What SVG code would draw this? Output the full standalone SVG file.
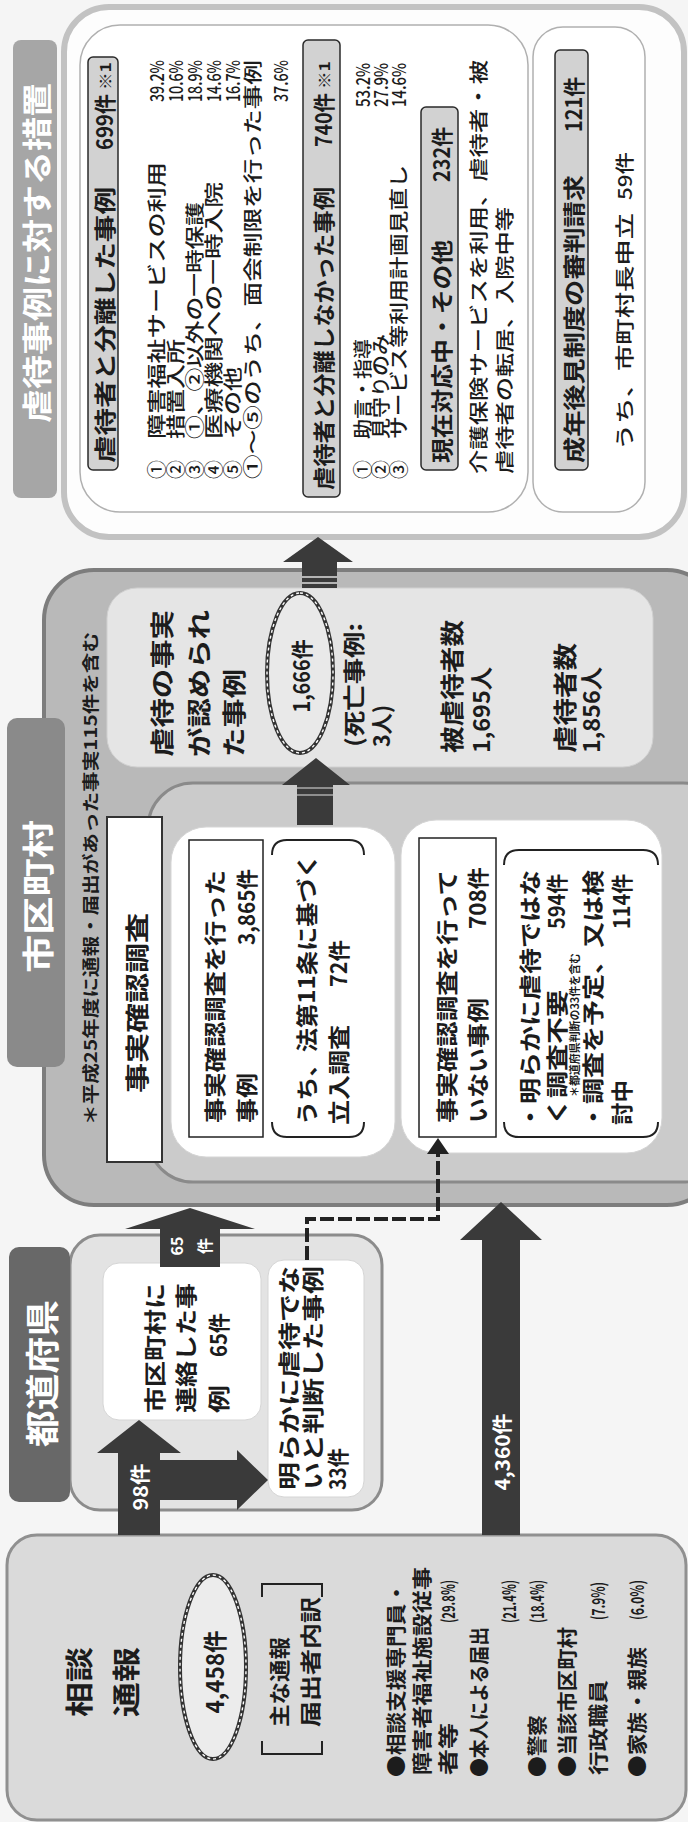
<svg xmlns="http://www.w3.org/2000/svg" width="688" height="1822" viewBox="0 0 688 1822">
<defs>
<style>
text{font-family:"Noto Sans CJK JP","Noto Sans",sans-serif;fill:#1c1c1c;dominant-baseline:central}
.b{font-weight:bold}
.w{fill:#fff}
.h{font-size:22px;font-weight:bold}
.i{font-size:19px;font-weight:500}
.m{font-size:22px;font-weight:bold}
.arr{fill:#3a3a3a}
.hdr{fill:#d2d2d2;stroke:#2a2a2a;stroke-width:1.5}
.wbox{fill:#fff;stroke:#d5d5d5;stroke-width:1}
.rbox{fill:#fff;stroke:#222;stroke-width:1.5}
.brk{fill:none;stroke:#222;stroke-width:2}
.ell{stroke:#333;stroke-width:4}
.elld{fill:none;stroke:#fff;stroke-width:1.4;stroke-dasharray:3 3}
.dash{fill:none;stroke:#222;stroke-width:4;stroke-dasharray:14 4}
</style>
</defs>
<rect width="688" height="1822" fill="#f5f5f5"/>
<g transform="translate(0,1822) rotate(-90)">

<!-- 相談・通報 -->
<g id="soudan">
<rect x="2" y="7" width="285" height="679" rx="30" fill="#dadada" stroke="#909090" stroke-width="3"/>
<text class="b" x="105" y="78" font-size="28" textLength="70" lengthAdjust="spacingAndGlyphs">相談</text>
<text class="b" x="105" y="125" font-size="28" textLength="70" lengthAdjust="spacingAndGlyphs">通報</text>
<ellipse class="ell" cx="155" cy="213" rx="92" ry="33" fill="#ececec"/>
<ellipse class="elld" cx="155" cy="213" rx="92" ry="33"/>
<text class="b" x="150" y="213" font-size="24" text-anchor="middle" textLength="83" lengthAdjust="spacingAndGlyphs">4,458件</text>
<path class="brk" d="M81,262 H68 V322 H81 M225,262 H238 V322 H225" stroke-width="2.5"/>
<text class="b" x="95" y="278" font-size="21" textLength="90" lengthAdjust="spacingAndGlyphs">主な通報</text>
<text class="b" x="95" y="309" font-size="21" textLength="130" lengthAdjust="spacingAndGlyphs">届出者内訳</text>
<text class="b" x="45" y="395" font-size="20" textLength="195" lengthAdjust="spacingAndGlyphs">●相談支援専門員・</text>
<text class="b" x="47" y="421" font-size="20" textLength="208" lengthAdjust="spacingAndGlyphs">障害者福祉施設従事</text>
<text class="b" x="47" y="447" font-size="20" textLength="52" lengthAdjust="spacingAndGlyphs">者等</text>
<text class="b" x="199" y="447" font-size="18" textLength="43" lengthAdjust="spacingAndGlyphs">(29.8%)</text>
<text class="b" x="45" y="478" font-size="20" textLength="150" lengthAdjust="spacingAndGlyphs">●本人による届出</text>
<text class="b" x="199" y="508" font-size="18" textLength="43" lengthAdjust="spacingAndGlyphs">(21.4%)</text>
<text class="b" x="45" y="536" font-size="20" textLength="62" lengthAdjust="spacingAndGlyphs">●警察</text>
<text class="b" x="199" y="536" font-size="18" textLength="43" lengthAdjust="spacingAndGlyphs">(18.4%)</text>
<text class="b" x="45" y="566" font-size="20" textLength="150" lengthAdjust="spacingAndGlyphs">●当該市区町村</text>
<text class="b" x="47" y="597" font-size="20" textLength="95" lengthAdjust="spacingAndGlyphs">行政職員</text>
<text class="b" x="202" y="597" font-size="18" textLength="38" lengthAdjust="spacingAndGlyphs">(7.9%)</text>
<text class="b" x="45" y="636" font-size="20" textLength="130" lengthAdjust="spacingAndGlyphs">●家族・親族</text>
<text class="b" x="202" y="636" font-size="18" textLength="40" lengthAdjust="spacingAndGlyphs">(6.0%)</text>
</g>

<!-- 都道府県 -->
<g id="todoufuken">
<rect x="312" y="70" width="275" height="312" rx="30" fill="#e3e3e3" stroke="#8c8c8c" stroke-width="3"/>
<rect x="320" y="9" width="255" height="61" rx="10" fill="#686868"/>
<text class="b w" x="375" y="40" font-size="34" textLength="147" lengthAdjust="spacingAndGlyphs">都道府県</text>
</g>
<g id="renraku">
<rect class="wbox" x="402" y="103" width="157" height="158" rx="16"/>
<text class="m" x="409" y="153" textLength="130" lengthAdjust="spacingAndGlyphs">市区町村に</text>
<text class="m" x="409" y="184" textLength="130" lengthAdjust="spacingAndGlyphs">連絡した事</text>
<text class="m" x="409" y="217" textLength="28" lengthAdjust="spacingAndGlyphs">例</text>
<text class="m" x="465" y="217" textLength="44" lengthAdjust="spacingAndGlyphs">65件</text>
</g>
<g id="hangyaku">
<rect class="wbox" x="325" y="268" width="237" height="96" rx="16"/>
<text class="m" x="332" y="287" textLength="224" lengthAdjust="spacingAndGlyphs">明らかに虐待でな</text>
<text class="m" x="332" y="311" textLength="224" lengthAdjust="spacingAndGlyphs">いと判断した事例</text>
<text class="m" x="332" y="336" textLength="42" lengthAdjust="spacingAndGlyphs">33件</text>
</g>

<!-- 市区町村 -->
<g id="shikuchouson">
<rect x="617" y="44" width="635" height="673" rx="50" fill="#b9b9b9" stroke="#7d7d7d" stroke-width="4"/>
<rect x="755" y="7" width="349" height="58" rx="10" fill="#8a8a8a"/>
<text class="b w" x="849" y="36" font-size="32" textLength="153" lengthAdjust="spacingAndGlyphs">市区町村</text>
<text class="b" x="697" y="89" font-size="17" textLength="493" lengthAdjust="spacingAndGlyphs">＊平成25年度に通報・届出があった事実115件を含む</text>
</g>
<g id="nintei">
<rect x="1055" y="107" width="179" height="546" rx="30" fill="#e5e5e5" stroke="#d0d0d0" stroke-width="1"/>
<text class="b" x="1065" y="160" font-size="24" textLength="147" lengthAdjust="spacingAndGlyphs">虐待の事実</text>
<text class="b" x="1065" y="197" font-size="24" textLength="147" lengthAdjust="spacingAndGlyphs">が認められ</text>
<text class="b" x="1065" y="232" font-size="24" textLength="88" lengthAdjust="spacingAndGlyphs">た事例</text>
<ellipse class="ell" cx="1149" cy="300" rx="80" ry="33" fill="#e9e9e9"/>
<ellipse class="elld" cx="1149" cy="300" rx="80" ry="33"/>
<text class="b" x="1146" y="300" font-size="22" text-anchor="middle" textLength="73" lengthAdjust="spacingAndGlyphs">1,666件</text>
<text class="b" x="1075" y="352" font-size="22" textLength="124" lengthAdjust="spacingAndGlyphs">(死亡事例:</text>
<text class="b" x="1075" y="380" font-size="22" textLength="42" lengthAdjust="spacingAndGlyphs">3人)</text>
<text class="b" x="1069" y="450" font-size="24" textLength="133" lengthAdjust="spacingAndGlyphs">被虐待者数</text>
<text class="b" x="1069" y="480" font-size="23" textLength="86" lengthAdjust="spacingAndGlyphs">1,695人</text>
<text class="b" x="1069" y="563" font-size="24" textLength="110" lengthAdjust="spacingAndGlyphs">虐待者数</text>
<text class="b" x="1069" y="590" font-size="23" textLength="86" lengthAdjust="spacingAndGlyphs">1,856人</text>
</g>
<g id="chousa">
<rect x="640" y="148" width="399" height="580" rx="45" fill="#cbcbcb" stroke="#8a8a8a" stroke-width="3"/>
<rect x="660" y="107" width="345" height="55" fill="#fff" stroke="#333" stroke-width="2"/>
<text class="b" x="729" y="135" font-size="24" textLength="180" lengthAdjust="spacingAndGlyphs">事実確認調査</text>
</g>
<g id="chousa-ari">
<rect class="wbox" x="665" y="171" width="330" height="224" rx="35"/>
<rect class="rbox" x="685" y="189" width="297" height="74"/>
<text class="m" x="699" y="213" textLength="253" lengthAdjust="spacingAndGlyphs">事実確認調査を行った</text>
<text class="m" x="699" y="245" textLength="50" lengthAdjust="spacingAndGlyphs">事例</text>
<text class="m" x="877" y="245" textLength="76" lengthAdjust="spacingAndGlyphs">3,865件</text>
<path class="brk" d="M700,272 Q685,272 685,287 V349 Q685,364 700,364 M967,272 Q982,272 982,287 V349 Q982,364 967,364"/>
<text class="m" x="697" y="305" textLength="271" lengthAdjust="spacingAndGlyphs">うち、法第11条に基づく</text>
<text class="m" x="697" y="337" textLength="100" lengthAdjust="spacingAndGlyphs">立入調査</text>
<text class="m" x="835" y="337" textLength="47" lengthAdjust="spacingAndGlyphs">72件</text>
</g>
<g id="chousa-nashi">
<rect class="wbox" x="669" y="401" width="333" height="261" rx="35"/>
<rect class="rbox" x="685" y="419" width="299" height="77"/>
<text class="m" x="699" y="445" textLength="253" lengthAdjust="spacingAndGlyphs">事実確認調査を行って</text>
<text class="m" x="699" y="476" textLength="125" lengthAdjust="spacingAndGlyphs">いない事例</text>
<text class="m" x="893" y="476" textLength="62" lengthAdjust="spacingAndGlyphs">708件</text>
<path class="brk" d="M700,504 Q685,504 685,519 V643 Q685,658 700,658 M957,504 Q972,504 972,519 V643 Q972,658 957,658"/>
<text class="m" x="692" y="528" textLength="260" lengthAdjust="spacingAndGlyphs">・明らかに虐待ではな</text>
<text class="m" x="697" y="555" textLength="135" lengthAdjust="spacingAndGlyphs">く調査不要</text>
<text class="m" x="893" y="555" textLength="55" lengthAdjust="spacingAndGlyphs">594件</text>
<text class="b" x="725" y="574" font-size="11" textLength="144" lengthAdjust="spacingAndGlyphs">＊都道府県判断の33件を含む</text>
<text class="m" x="692" y="591" textLength="260" lengthAdjust="spacingAndGlyphs">・調査を予定、又は検</text>
<text class="m" x="697" y="620" textLength="45" lengthAdjust="spacingAndGlyphs">討中</text>
<text class="m" x="893" y="620" textLength="55" lengthAdjust="spacingAndGlyphs">114件</text>
</g>

<!-- 措置 -->
<g id="sochi">
<rect x="1285" y="64" width="530" height="620" rx="45" fill="#fdfdfd" stroke="#c2c2c2" stroke-width="6"/>
<rect x="1324" y="13" width="458" height="44" rx="8" fill="#a6a6a6"/>
<text class="b w" x="1399" y="35" font-size="30" textLength="340" lengthAdjust="spacingAndGlyphs">虐待事例に対する措置</text>
<rect x="1310" y="80" width="487" height="448" rx="40" fill="#fff" stroke="#b0b0b0" stroke-width="1.5"/>
</g>
<g id="bunri">
<rect class="hdr" x="1352" y="88" width="413" height="30" rx="5"/>
<text class="h" x="1359" y="103" textLength="276" lengthAdjust="spacingAndGlyphs">虐待者と分離した事例</text>
<text class="h" x="1672" y="103" textLength="56" lengthAdjust="spacingAndGlyphs">699件</text>
<text class="b" x="1732" y="104" font-size="15" textLength="28" lengthAdjust="spacingAndGlyphs">※1</text>
<text class="i" x="1343" y="155">①</text>
<text class="i" x="1383" y="155" textLength="277" lengthAdjust="spacingAndGlyphs">障害福祉サービスの利用</text>
<text class="i" x="1720" y="155" textLength="42" lengthAdjust="spacingAndGlyphs">39.2%</text>
<text class="i" x="1343" y="174">②</text>
<text class="i" x="1383" y="174" textLength="100" lengthAdjust="spacingAndGlyphs">措置入所</text>
<text class="i" x="1720" y="174" textLength="42" lengthAdjust="spacingAndGlyphs">10.6%</text>
<text class="i" x="1343" y="193">③</text>
<text class="i" x="1383" y="193" textLength="237" lengthAdjust="spacingAndGlyphs">①、②以外の一時保護</text>
<text class="i" x="1720" y="193" textLength="42" lengthAdjust="spacingAndGlyphs">18.9%</text>
<text class="i" x="1343" y="212">④</text>
<text class="i" x="1383" y="212" textLength="257" lengthAdjust="spacingAndGlyphs">医療機関への一時入院</text>
<text class="i" x="1720" y="212" textLength="42" lengthAdjust="spacingAndGlyphs">14.6%</text>
<text class="i" x="1343" y="231">⑤</text>
<text class="i" x="1383" y="231" textLength="72" lengthAdjust="spacingAndGlyphs">その他</text>
<text class="i" x="1720" y="231" textLength="42" lengthAdjust="spacingAndGlyphs">16.7%</text>
<text class="i" x="1343" y="251" textLength="419" lengthAdjust="spacingAndGlyphs">①～⑤のうち、面会制限を行った事例</text>
<text class="i" x="1720" y="279" textLength="42" lengthAdjust="spacingAndGlyphs">37.6%</text>
</g>
<g id="hibunri">
<rect class="hdr" x="1325" y="303" width="457" height="37" rx="5"/>
<text class="h" x="1332" y="322" textLength="303" lengthAdjust="spacingAndGlyphs">虐待者と分離しなかった事例</text>
<text class="h" x="1675" y="322" textLength="54" lengthAdjust="spacingAndGlyphs">740件</text>
<text class="b" x="1733" y="323" font-size="15" textLength="28" lengthAdjust="spacingAndGlyphs">※1</text>
<text class="i" x="1343" y="361">①</text>
<text class="i" x="1383" y="361" textLength="100" lengthAdjust="spacingAndGlyphs">助言・指導</text>
<text class="i" x="1715" y="361" textLength="44" lengthAdjust="spacingAndGlyphs">53.2%</text>
<text class="i" x="1343" y="379">②</text>
<text class="i" x="1383" y="379" textLength="105" lengthAdjust="spacingAndGlyphs">見守りのみ</text>
<text class="i" x="1715" y="379" textLength="44" lengthAdjust="spacingAndGlyphs">27.9%</text>
<text class="i" x="1343" y="397">③</text>
<text class="i" x="1383" y="397" textLength="274" lengthAdjust="spacingAndGlyphs">サービス等利用計画見直し</text>
<text class="i" x="1715" y="397" textLength="44" lengthAdjust="spacingAndGlyphs">14.6%</text>
</g>
<g id="taiouchu">
<rect class="hdr" x="1352" y="421" width="363" height="37" rx="5"/>
<text class="h" x="1359" y="440" textLength="223" lengthAdjust="spacingAndGlyphs">現在対応中・その他</text>
<text class="h" x="1640" y="440" textLength="55" lengthAdjust="spacingAndGlyphs">232件</text>
<text class="i" x="1348" y="477" font-size="19.5" textLength="414" lengthAdjust="spacingAndGlyphs">介護保険サービスを利用、虐待者・被</text>
<text class="i" x="1348" y="503" font-size="19.5" textLength="267" lengthAdjust="spacingAndGlyphs">虐待者の転居、入院中等</text>
</g>
<g id="kouken">
<rect x="1310" y="533" width="485" height="112" rx="30" fill="#fff" stroke="#b0b0b0" stroke-width="1.5"/>
<rect class="hdr" x="1352" y="555" width="420" height="33" rx="5"/>
<text class="h" x="1359" y="572" textLength="288" lengthAdjust="spacingAndGlyphs">成年後見制度の審判請求</text>
<text class="h" x="1690" y="572" textLength="55" lengthAdjust="spacingAndGlyphs">121件</text>
<text class="i" x="1372" y="623" font-size="20" textLength="237" lengthAdjust="spacingAndGlyphs">うち、市町村長申立</text>
<text class="i" x="1622" y="623" font-size="20" textLength="48" lengthAdjust="spacingAndGlyphs">59件</text>
</g>

<!-- connectors -->
<g id="connectors">
<polygon class="arr" points="287,118 369,118 369,97 402,139 369,181 369,160 287,160"/>
<polygon class="arr" points="322,158 362,158 362,237 372,237 342,268 312,237 322,237"/>
<text class="b w" x="335" y="139" font-size="20" text-anchor="middle" textLength="47" lengthAdjust="spacingAndGlyphs">98件</text>
<polygon class="arr" points="555,160 593,160 593,125 614,190 593,255 593,220 555,220"/>
<text class="b w" x="576" y="176" font-size="16" text-anchor="middle">65</text>
<text class="b w" x="576" y="204" font-size="16" text-anchor="middle">件</text>
<polygon class="arr" points="287,482 582,482 582,460 620,501 582,542 582,520 287,520"/>
<text class="b w" x="370" y="501" font-size="20" text-anchor="middle" textLength="77" lengthAdjust="spacingAndGlyphs">4,360件</text>
<path class="dash" d="M562,307 H603 V438 H670"/>
<polygon fill="#222" points="668,427 684,438 668,449"/>
<polygon class="arr" points="997,297 1037,297 1037,282 1064,316 1037,350 1037,333 997,333"/>
<path d="M1027,297 V333 M1034,297 V333" stroke="#aaa" stroke-width="1.5"/>
<polygon class="arr" points="1234,302 1260,302 1260,283 1285,318 1260,353 1260,337 1234,337"/>
<path d="M1239,302 V337 M1245,302 V337" stroke="#ddd" stroke-width="1.5"/>
</g>
</g>
</svg>
